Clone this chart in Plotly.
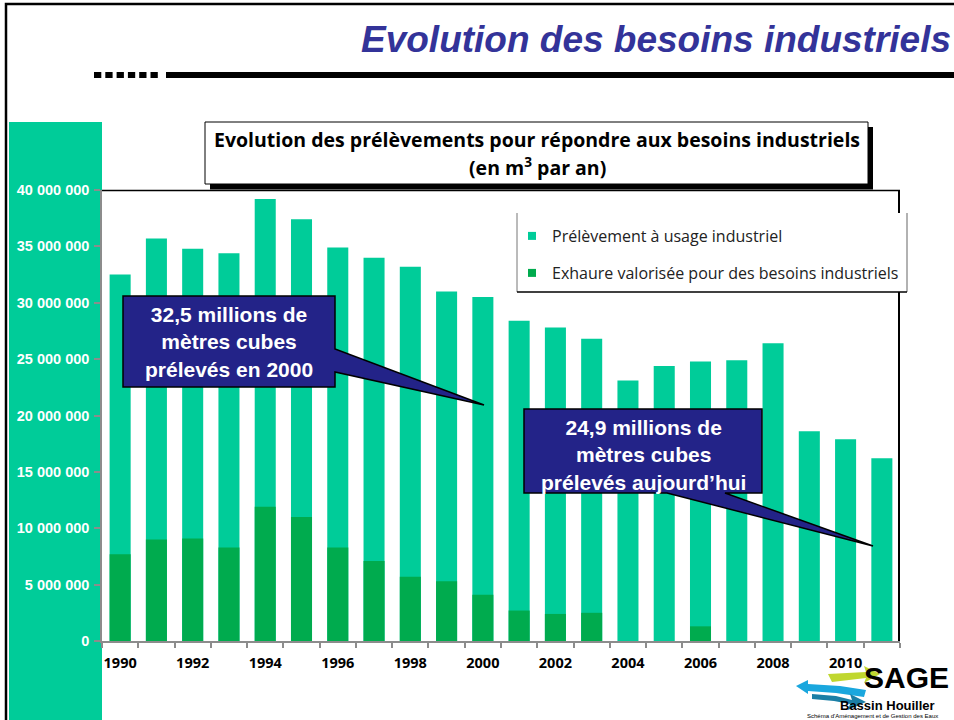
import plotly.graph_objects as go

# ---------------- data ----------------
years = [1990, 1991, 1992, 1993, 1994, 1995, 1996, 1997, 1998, 1999, 2000,
         2001, 2002, 2003, 2004, 2005, 2006, 2007, 2008, 2009, 2010, 2011]
prelevement = [32500000, 35700000, 34800000, 34400000, 39200000, 37400000,
               34900000, 34000000, 33200000, 31000000, 30500000, 28400000,
               27800000, 26800000, 23100000, 24400000, 24800000, 24900000,
               26400000, 18600000, 17900000, 16200000]
exhaure = [7700000, 9000000, 9100000, 8300000, 11900000, 11000000,
           8300000, 7100000, 5700000, 5300000, 4100000, 2700000,
           2400000, 2500000, 0, 0, 1300000, 0, 0, 0, 0, 0]
series_names = ["Prélèvement à usage industriel",
                "Exhaure valorisée pour des besoins industriels"]
x_tick_vals = [1990, 1992, 1994, 1996, 1998, 2000, 2002, 2004, 2006, 2008, 2010]
x_tick_labels = ["1990", "1992", "1994", "1996", "1998", "2000", "2002",
                 "2004", "2006", "2008", "2010"]
x_boundaries = [1989.5, 1990.5, 1991.5, 1992.5, 1993.5, 1994.5, 1995.5, 1996.5,
                1997.5, 1998.5, 1999.5, 2000.5, 2001.5, 2002.5, 2003.5, 2004.5,
                2005.5, 2006.5, 2007.5, 2008.5, 2009.5, 2010.5, 2011.5]
y_tick_vals = [0, 5000000, 10000000, 15000000, 20000000, 25000000,
               30000000, 35000000, 40000000]
y_tick_labels = ["0", "5 000 000", "10 000 000", "15 000 000", "20 000 000",
                 "25 000 000", "30 000 000", "35 000 000", "40 000 000"]
headline = "Evolution des besoins industriels"
chart_title = ["Evolution des prélèvements pour répondre aux besoins industriels",
               "(en m<sup>3</sup> par an)"]
callout_1 = "32,5 millions de<br>mètres cubes<br>prélevés en 2000"
callout_2 = "24,9 millions de<br>mètres cubes<br>prélevés aujourd’hui"

# ---------------- geometry helpers (pixels -> paper) ----------------
W, H = 954, 720
L, R, T, B = 102, 900, 190, 641


def px(x):
    return (x - L) / (R - L)


def py(y):
    return (B - y) / (B - T)


def path(points):
    s = "M " + " L ".join(f"{px(a):.5f},{py(b):.5f}" for a, b in points) + " Z"
    return s


LIGHT = "#00CC99"
DARK = "#00AB4E"
NAVY = "#232388"
AXIS_GRAY = "#8C8C8C"
ARIAL = "Liberation Sans"
CALIBRI = "Open Sans"

fig = go.Figure()
fig.add_bar(x=years, y=prelevement, marker=dict(color=LIGHT, line=dict(width=0)),
            opacity=1, showlegend=False, name=series_names[0])
fig.add_bar(x=years, y=exhaure, marker=dict(color=DARK, line=dict(width=0)),
            opacity=1, showlegend=False, name=series_names[1])
fig.add_scatter(x=[None], y=[None], mode="markers", name=series_names[0],
                marker=dict(symbol="square", size=8, color=LIGHT), legend="legend")
fig.add_scatter(x=[None], y=[None], mode="markers", name=series_names[1],
                marker=dict(symbol="square", size=8, color=DARK), legend="legend2")

shapes = []
# slide frame
shapes.append(dict(type="rect", xref="paper", yref="paper", layer="below",
                   x0=px(6), x1=px(1010), y0=py(4), y1=py(1000),
                   line=dict(color="black", width=2.5), fillcolor="rgba(0,0,0,0)"))
# green strip on the left
shapes.append(dict(type="rect", xref="paper", yref="paper", layer="below",
                   x0=px(9), x1=px(102), y0=py(122), y1=py(730),
                   line=dict(width=0), fillcolor=LIGHT))
# heading rule: dashes then a solid bar
for k in range(6):
    x0 = 94 + k * 11.3
    shapes.append(dict(type="rect", xref="paper", yref="paper",
                       x0=px(x0), x1=px(x0 + 7.3), y0=py(78), y1=py(72),
                       line=dict(width=0), fillcolor="black"))
shapes.append(dict(type="rect", xref="paper", yref="paper",
                   x0=px(166), x1=px(960), y0=py(78), y1=py(72),
                   line=dict(width=0), fillcolor="black"))
# plot frame (top + right)
shapes.append(dict(type="line", xref="paper", yref="paper",
                   x0=px(102), x1=px(900), y0=py(190.5), y1=py(190.5),
                   line=dict(color="black", width=1.5)))
shapes.append(dict(type="line", xref="paper", yref="paper",
                   x0=px(899), x1=px(899), y0=py(190), y1=py(641),
                   line=dict(color="black", width=2)))
# chart title box with shadow
shapes.append(dict(type="rect", xref="paper", yref="paper",
                   x0=px(210), x1=px(873), y0=py(127), y1=py(189.5),
                   line=dict(width=0), fillcolor="black"))
shapes.append(dict(type="rect", xref="paper", yref="paper",
                   x0=px(205), x1=px(868), y0=py(122), y1=py(184),
                   line=dict(color="black", width=1), fillcolor="white"))
# legend box
shapes.append(dict(type="rect", xref="paper", yref="paper",
                   x0=px(517), x1=px(907), y0=py(213), y1=py(292),
                   line=dict(width=0), fillcolor="white"))
shapes.append(dict(type="line", xref="paper", yref="paper",
                   x0=px(517), x1=px(517), y0=py(213), y1=py(292),
                   line=dict(color="#777777", width=1)))
shapes.append(dict(type="line", xref="paper", yref="paper",
                   x0=px(907), x1=px(907), y0=py(213), y1=py(292),
                   line=dict(color="#999999", width=1.5)))
shapes.append(dict(type="line", xref="paper", yref="paper",
                   x0=px(517), x1=px(907), y0=py(292), y1=py(292),
                   line=dict(color="black", width=1.5)))
# callouts
shapes.append(dict(type="path", xref="paper", yref="paper",
                   path=path([(123, 296), (335, 296), (335, 349), (484, 405),
                              (335, 372), (335, 387), (123, 387)]),
                   line=dict(color="black", width=1.5), fillcolor=NAVY))
shapes.append(dict(type="path", xref="paper", yref="paper",
                   path=path([(524, 409), (762, 409), (762, 493), (725, 493),
                              (873, 546), (667, 493), (524, 493)]),
                   line=dict(color="black", width=1.5), fillcolor=NAVY))
# logo swooshes
shapes.append(dict(type="path", xref="paper", yref="paper",
                   path=path([(828, 674), (866, 672), (864, 666), (880, 674),
                              (864, 683), (866, 678), (832, 682)]),
                   line=dict(width=0), fillcolor="#C0D72F"))
shapes.append(dict(type="path", xref="paper", yref="paper",
                   path=path([(796, 686), (808, 680), (808, 684), (840, 686),
                              (866, 690), (864, 697), (836, 693), (808, 691),
                              (808, 694)]),
                   line=dict(width=0), fillcolor="#1AA7DE"))
shapes.append(dict(type="path", xref="paper", yref="paper",
                   path=path([(812, 694), (836, 696), (852, 700), (850, 694),
                              (866, 702), (848, 710), (850, 704), (834, 701),
                              (812, 699)]),
                   line=dict(width=0), fillcolor="#1B7FA6"))

annotations = []
annotations.append(dict(text=f"<b><i>{headline}</i></b>", xref="paper", yref="paper",
                        x=px(953), y=py(39), xanchor="right", yanchor="middle",
                        showarrow=False,
                        font=dict(family=ARIAL, size=37, color="#333399")))
annotations.append(dict(text=f"<b>{chart_title[0]}</b>", xref="paper", yref="paper",
                        x=px(537), y=py(139), xanchor="center", yanchor="middle",
                        showarrow=False,
                        font=dict(family=CALIBRI, size=19.5, color="black")))
annotations.append(dict(text=f"<b>{chart_title[1]}</b>", xref="paper", yref="paper",
                        x=px(537), y=py(166), xanchor="center", yanchor="middle",
                        showarrow=False,
                        font=dict(family=CALIBRI, size=19.5, color="black")))
annotations.append(dict(text=f"<b>{callout_1}</b>", xref="paper", yref="paper",
                        x=px(229), y=py(342), xanchor="center", yanchor="middle",
                        showarrow=False,
                        font=dict(family=ARIAL, size=21, color="white")))
annotations.append(dict(text=f"<b>{callout_2}</b>", xref="paper", yref="paper",
                        x=px(643), y=py(455), xanchor="center", yanchor="middle",
                        showarrow=False,
                        font=dict(family=ARIAL, size=21, color="white")))
annotations.append(dict(text="<b>SAGE</b>", xref="paper", yref="paper",
                        x=px(951), y=py(677), xanchor="right", yanchor="middle",
                        showarrow=False,
                        font=dict(family=ARIAL, size=30, color="black")))
annotations.append(dict(text="<b>Bassin Houiller</b>", xref="paper", yref="paper",
                        x=px(838), y=py(705), xanchor="left", yanchor="middle",
                        showarrow=False,
                        font=dict(family=ARIAL, size=13, color="black")))
annotations.append(dict(text="Schéma d'Aménagement et de Gestion des Eaux",
                        xref="paper", yref="paper",
                        x=px(805), y=py(716), xanchor="left", yanchor="middle",
                        showarrow=False,
                        font=dict(family=ARIAL, size=6, color="black")))

fig.update_layout(
    width=W, height=H, autosize=False,
    margin=dict(l=L, r=W - R, t=T, b=H - B, pad=0),
    paper_bgcolor="white", plot_bgcolor="white",
    barmode="overlay", bargap=0.42,
    showlegend=True,
    legend=dict(x=px(512), y=py(219), xanchor="left", yanchor="top",
                bgcolor="rgba(0,0,0,0)", borderwidth=0,
                font=dict(family=CALIBRI, size=16, color="#222222")),
    legend2=dict(x=px(512), y=py(256), xanchor="left", yanchor="top",
                 bgcolor="rgba(0,0,0,0)", borderwidth=0,
                 font=dict(family=CALIBRI, size=16, color="#222222")),
    shapes=shapes,
    annotations=annotations,
    xaxis=dict(range=[1989.5, 2011.5], showgrid=False, zeroline=False,
               showline=True, linecolor=AXIS_GRAY, linewidth=1.5,
               tickmode="array", tickvals=x_tick_vals, ticktext=x_tick_labels,
               ticks="", ticklabelstandoff=8,
               tickfont=dict(family=CALIBRI, size=14.5, color="black", weight="bold"),
               minor=dict(tickmode="array", tickvals=x_boundaries, ticks="outside",
                          ticklen=5, tickwidth=1.5, tickcolor=AXIS_GRAY, showgrid=False),
               fixedrange=True),
    yaxis=dict(range=[0, 40000000], showgrid=False, zeroline=False,
               showline=True, linecolor=AXIS_GRAY, linewidth=1.5,
               tickmode="array", tickvals=y_tick_vals, ticktext=y_tick_labels,
               ticks="outside", ticklen=6, tickwidth=1.5, tickcolor=AXIS_GRAY,
               ticklabelstandoff=2,
               tickfont=dict(family=ARIAL, size=14.5, color="white", weight="bold"),
               fixedrange=True),
)

fig.write_html("out.html", config={"displayModeBar": False},
               post_script="document.body.style.margin='0';document.body.style.padding='0';")
